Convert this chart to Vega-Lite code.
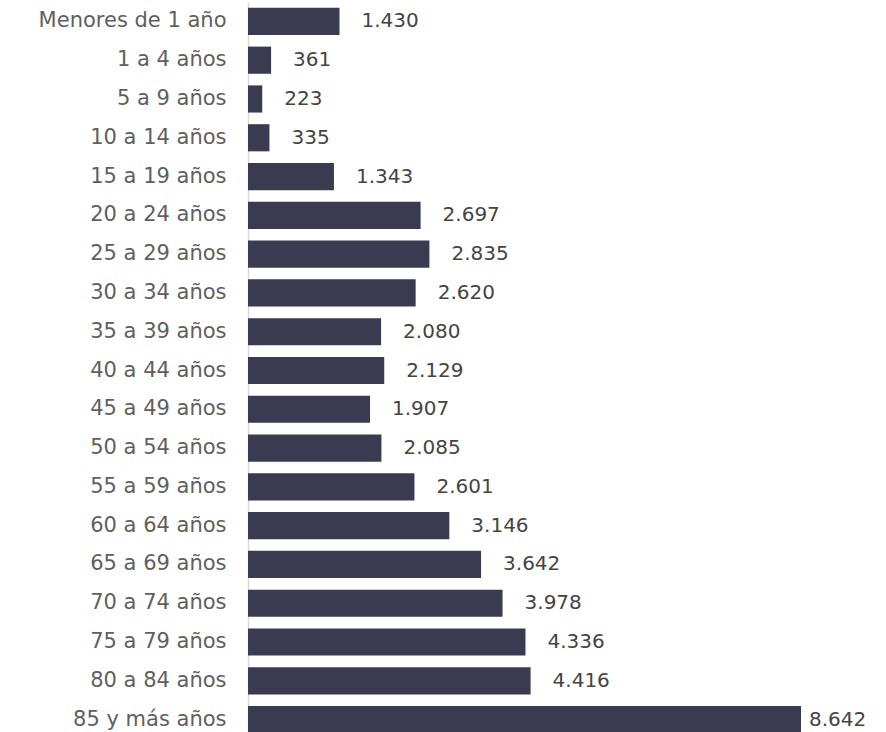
{
  "$schema": "https://vega.github.io/schema/vega-lite/v6.json",
  "autosize": "none",
  "width": 638,
  "height": 737,
  "padding": {"left": 248, "top": 2, "right": 0, "bottom": 0},
  "background": "white",
  "config": {
    "view": {"stroke": null},
    "locale": {"number": {"decimal": ",", "thousands": ".", "grouping": [3], "currency": ["", " €"]}},
    "font": "DejaVu Sans"
  },
  "data": {"values": [
    {"edad": "Menores de 1 año", "valor": 1430},
    {"edad": "1 a 4 años", "valor": 361},
    {"edad": "5 a 9 años", "valor": 223},
    {"edad": "10 a 14 años", "valor": 335},
    {"edad": "15 a 19 años", "valor": 1343},
    {"edad": "20 a 24 años", "valor": 2697},
    {"edad": "25 a 29 años", "valor": 2835},
    {"edad": "30 a 34 años", "valor": 2620},
    {"edad": "35 a 39 años", "valor": 2080},
    {"edad": "40 a 44 años", "valor": 2129},
    {"edad": "45 a 49 años", "valor": 1907},
    {"edad": "50 a 54 años", "valor": 2085},
    {"edad": "55 a 59 años", "valor": 2601},
    {"edad": "60 a 64 años", "valor": 3146},
    {"edad": "65 a 69 años", "valor": 3642},
    {"edad": "70 a 74 años", "valor": 3978},
    {"edad": "75 a 79 años", "valor": 4336},
    {"edad": "80 a 84 años", "valor": 4416},
    {"edad": "85 y más años", "valor": 8642}
  ]},
  "encoding": {
    "y": {
      "field": "edad", "type": "nominal", "sort": null,
      "scale": {"paddingInner": 0.3, "paddingOuter": 0.15},
      "axis": {"title": null, "ticks": false, "labelPadding": 22, "labelLimit": 240, "labelFontSize": 21, "labelColor": "#5f5f5f", "labelFont": "DejaVu Sans", "labelFontWeight": "normal", "domainColor": "#d9d9d9", "domainWidth": 1.5, "grid": false}
    },
    "x": {
      "field": "valor", "type": "quantitative",
      "scale": {"domain": [0, 9970], "nice": false},
      "axis": null
    }
  },
  "layer": [
    {"mark": {"type": "bar", "color": "#3a3b50"}},
    {
      "transform": [{"filter": "datum.valor < 8000"}],
      "mark": {"type": "text", "align": "left", "baseline": "middle", "dx": 22, "fontSize": 20, "fontWeight": "normal", "color": "#444444"},
      "encoding": {"text": {"field": "valor", "type": "quantitative", "format": ",d"}}
    },
    {
      "transform": [{"filter": "datum.valor >= 8000"}],
      "mark": {"type": "text", "align": "left", "baseline": "middle", "dx": 8, "fontSize": 20, "fontWeight": "normal", "color": "#444444"},
      "encoding": {"text": {"field": "valor", "type": "quantitative", "format": ",d"}}
    }
  ]
}
